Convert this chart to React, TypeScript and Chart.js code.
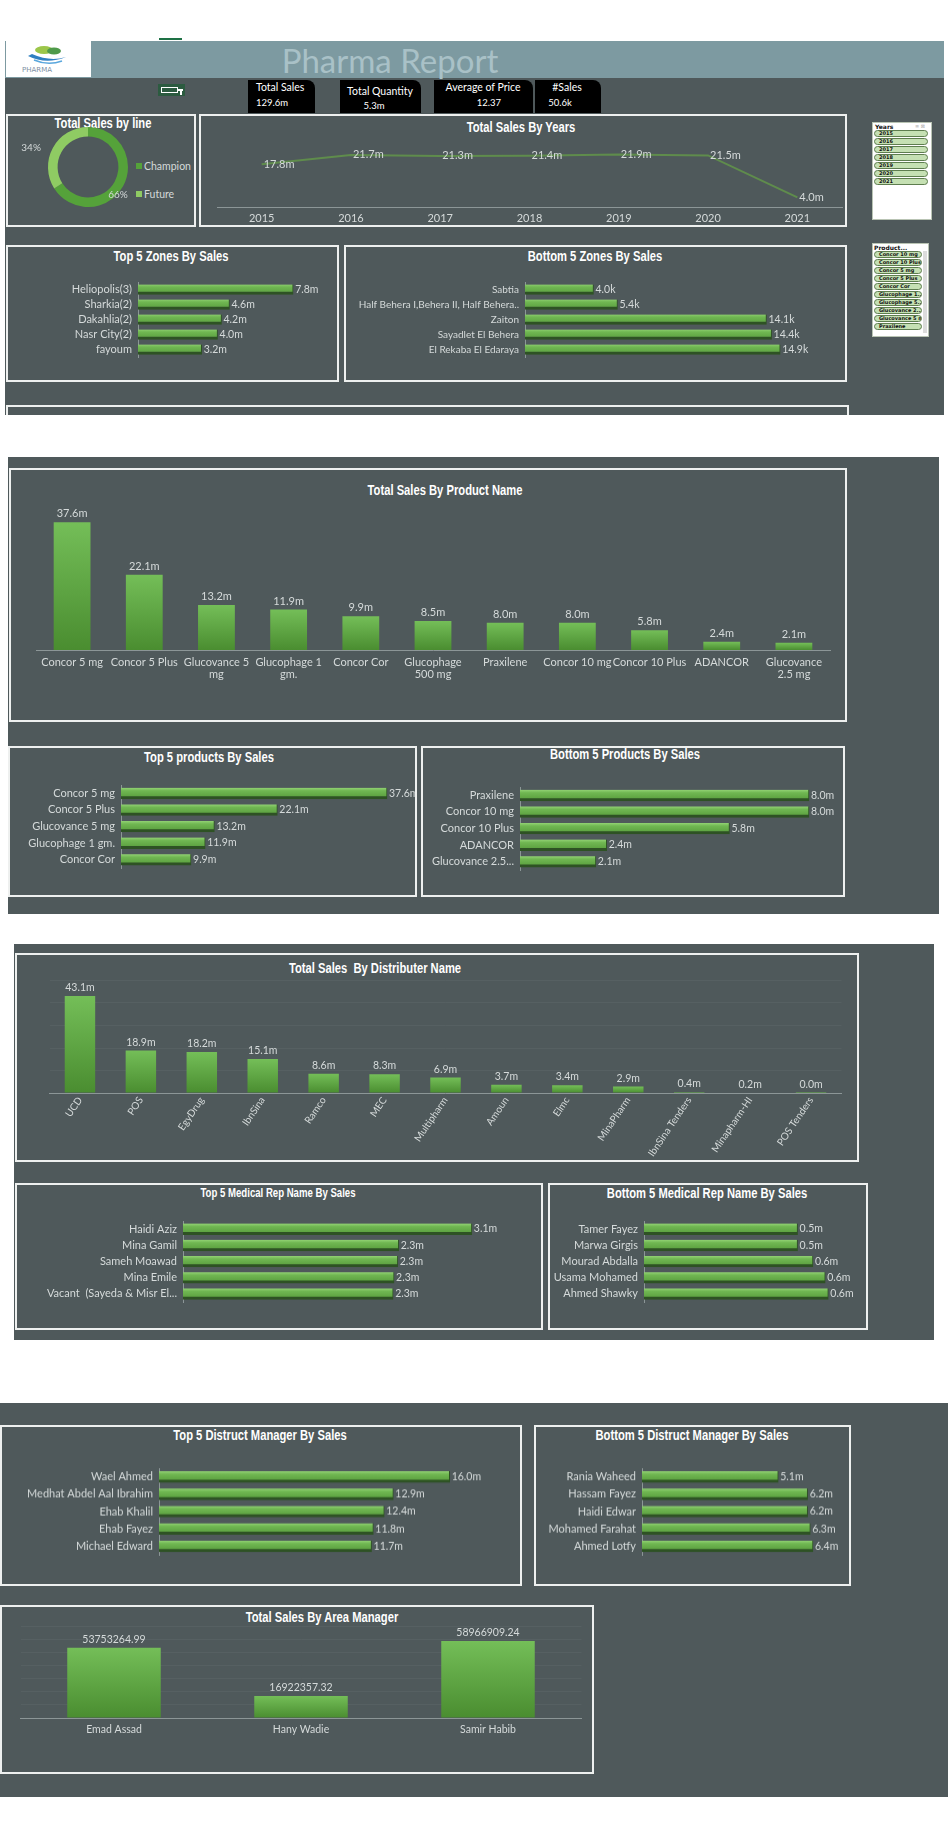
import React, { useEffect, useRef } from 'react';
import { Chart, registerables } from 'chart.js';

Chart.register(...registerables);

// ---------------- data ----------------
const lineLabels = ['Champion', 'Future'];
const lineShares = [66, 34];

const yearLabels = ['2015', '2016', '2017', '2018', '2019', '2020', '2021'];
const yearSales = [17.8, 21.7, 21.3, 21.4, 21.9, 21.5, 4.0]; // millions

const topZoneLabels = ['Heliopolis(3)', 'Sharkia(2)', 'Dakahlia(2)', 'Nasr City(2)', 'fayoum'];
const topZoneSales = [7.8, 4.6, 4.2, 4.0, 3.2]; // millions

const bottomZoneLabels = ['Sabtia', 'Half Behera I,Behera II, Half Behera..', 'Zaiton', 'Sayadlet El Behera', 'El Rekaba El Edaraya'];
const bottomZoneSales = [4.0, 5.4, 14.1, 14.4, 14.9]; // thousands

const productLabels: (string | string[])[] = [
  'Concor 5 mg', 'Concor 5 Plus', ['Glucovance 5', 'mg'], ['Glucophage 1', 'gm.'], 'Concor Cor',
  ['Glucophage', '500 mg'], 'Praxilene', 'Concor 10 mg', 'Concor 10 Plus', 'ADANCOR', ['Glucovance', '2.5 mg'],
];
const productSales = [37.6, 22.1, 13.2, 11.9, 9.9, 8.5, 8.0, 8.0, 5.8, 2.4, 2.1];

const topProductLabels = ['Concor 5 mg', 'Concor 5 Plus', 'Glucovance 5 mg', 'Glucophage 1 gm.', 'Concor Cor'];
const topProductSales = [37.6, 22.1, 13.2, 11.9, 9.9];

const bottomProductLabels = ['Praxilene', 'Concor 10 mg', 'Concor 10 Plus', 'ADANCOR', 'Glucovance 2.5...'];
const bottomProductSales = [8.0, 8.0, 5.8, 2.4, 2.1];

const distributorLabels = ['UCD', 'POS', 'EgyDrug', 'IbnSina', 'Ramco', 'MEC', 'Multipharm', 'Amoun', 'Elmc', 'MinaPharm', 'IbnSina Tenders', 'Minapharm-HI', 'POS Tenders'];
const distributorSales = [43.1, 18.9, 18.2, 15.1, 8.6, 8.3, 6.9, 3.7, 3.4, 2.9, 0.4, 0.2, 0.04];

const topRepLabels = ['Haidi Aziz', 'Mina Gamil', 'Sameh Moawad', 'Mina Emile', 'Vacant  (Sayeda & Misr El...'];
const topRepSales = [3.12, 2.33, 2.32, 2.28, 2.27];

const bottomRepLabels = ['Tamer Fayez', 'Marwa Girgis', 'Mourad Abdalla', 'Usama Mohamed', 'Ahmed Shawky'];
const bottomRepSales = [0.5, 0.5, 0.55, 0.59, 0.6];

const topManagerLabels = ['Wael Ahmed', 'Medhat Abdel Aal Ibrahim', 'Ehab Khalil', 'Ehab Fayez', 'Michael Edward'];
const topManagerSales = [16.0, 12.9, 12.4, 11.8, 11.7];

const bottomManagerLabels = ['Rania Waheed', 'Hassam Fayez', 'Haidi Edwar', 'Mohamed Farahat', 'Ahmed Lotfy'];
const bottomManagerSales = [5.1, 6.2, 6.2, 6.3, 6.4];

const areaManagerLabels = ['Emad Assad', 'Hany Wadie', 'Samir Habib'];
const areaManagerSales = [53753264.99, 16922357.32, 58966909.24];

const kpiTitles = ['Total Sales', 'Total Quantity', 'Average of Price', '#Sales'];
const kpiValues = ['129.6m', '5.3m', '12.37', '50.6k'];

const productSlicerItems = ['Concor 10 mg', 'Concor 10 Plus', 'Concor 5 mg', 'Concor 5 Plus', 'Concor Cor', 'Glucophage 1...', 'Glucophage 5...', 'Glucovance 2...', 'Glucovance 5 mg', 'Praxilene'];

// ---------------- styles ----------------
const BG = '#4f595b';
const HEADER = '#7d9aa1';
const TXT = '#d5dada';
const AXIS = '#8c9697';
const CHAMP = '#55a23a';
const FUT = '#8fcb63';
const LABEL_FONT = "Lato, 'Open Sans', sans-serif";
const TITLE_FONT = "'Liberation Sans', Arial, sans-serif";

Chart.defaults.font.family = LABEL_FONT;
Chart.defaults.color = TXT;

const valueLabels = {
  id: 'valueLabels',
  afterDatasetsDraw(chart: any, _a: any, opts: any) {
    if (!opts || !opts.mode) return;
    const ctx = chart.ctx;
    ctx.save();
    ctx.fillStyle = opts.color || TXT;
    ctx.font = `${opts.size || 10}px ${LABEL_FONT}`;
    chart.data.datasets.forEach((ds: any, di: number) => {
      const meta = chart.getDatasetMeta(di);
      const total = ds.data.reduce((a: number, b: number) => a + b, 0);
      meta.data.forEach((el: any, i: number) => {
        const v = ds.data[i];
        let t = '';
        if (opts.fmt === 'm') t = v.toFixed(1) + 'm';
        else if (opts.fmt === 'k') t = v.toFixed(1) + 'k';
        else if (opts.fmt === 'raw2') t = v.toFixed(2);
        else if (opts.fmt === 'pct') t = Math.round((v / total) * 100) + '%';
        if (opts.mode === 'right') {
          ctx.textAlign = 'left';
          ctx.textBaseline = 'middle';
          ctx.fillText(t, el.x + 2, el.y);
        } else if (opts.mode === 'top') {
          ctx.textAlign = 'center';
          ctx.textBaseline = 'bottom';
          ctx.fillText(t, el.x, el.y - 3);
        } else if (opts.mode === 'arc') {
          const radii = opts.radii || [];
          const shifts = opts.shifts || [];
          const mid = (el.startAngle + el.endAngle) / 2 + (shifts[i] || 0);
          const r = el.outerRadius * (radii[i] || 1);
          ctx.textAlign = 'center';
          ctx.textBaseline = 'middle';
          ctx.fillText(t, el.x + Math.cos(mid) * r, el.y + Math.sin(mid) * r);
        }
      });
    });
    ctx.restore();
  },
};
Chart.register(valueLabels);

type Box = { x: number; y: number; w: number; h: number };

const hGrad = (c: any) => {
  const chart = c.chart;
  const ys = chart.scales && chart.scales.y;
  if (c.type !== 'data' || !ys) return '#6cb24e';
  const yc = ys.getPixelForValue(c.dataIndex);
  if (!isFinite(yc)) return '#6cb24e';
  const g = chart.ctx.createLinearGradient(0, yc - 5.5, 0, yc + 3);
  g.addColorStop(0, '#92d274');
  g.addColorStop(0.35, '#70b752');
  g.addColorStop(1, '#5ea342');
  return g;
};

const vGrad = (c: any) => {
  const chart = c.chart;
  const ys = chart.scales && chart.scales.y;
  if (c.type !== 'data' || !ys) return '#63ad47';
  const top = ys.getPixelForValue(c.raw);
  const base = ys.getPixelForValue(0);
  if (!isFinite(top) || base - top < 2) return '#6cb54f';
  const g = chart.ctx.createLinearGradient(0, top, 0, base);
  g.addColorStop(0, '#74be58');
  g.addColorStop(1, '#4a8d30');
  return g;
};

// horizontal bar chart: x..x+w canvas span, rows centred at first + i*step
type HOpts = { x: number; w: number; first: number; step: number; barStart: number; plotRight: number; max: number; fmt: string; thick: number; tick?: number };
const HPAD = 16;
function hbar(labels: string[], values: number[], o: HOpts) {
  const box: Box = { x: o.x, y: o.first - o.step / 2 - HPAD, w: o.w, h: o.step * labels.length + 2 * HPAD };
  const make = () => ({
    type: 'bar',
    data: {
      labels,
      datasets: [{
        data: values,
        backgroundColor: hGrad,
        borderColor: '#2e5224',
        borderWidth: { top: 0, left: 0, right: 1, bottom: 3 },
        borderSkipped: false,
        barThickness: o.thick,
      }],
    },
    options: {
      indexAxis: 'y',
      responsive: false,
      animation: false,
      layout: { padding: { left: 0, right: o.x + o.w - o.plotRight, top: HPAD, bottom: HPAD } },
      plugins: { legend: { display: false }, tooltip: { enabled: false }, valueLabels: { mode: 'right', fmt: o.fmt, size: 10.5 } },
      scales: {
        x: { display: false, min: 0, max: o.max },
        y: {
          afterFit: (s: any) => { s.width = o.barStart - o.x; },
          grid: { display: false, drawTicks: false },
          border: { display: true, color: AXIS, width: 1 },
          ticks: { autoSkip: false, padding: 6, color: TXT, font: { size: o.tick || 11 } },
        },
      },
    },
  });
  return { box, make };
}

type VOpts = { box: Box; plotLeft: number; plotRight: number; plotTop: number; base: number; max: number; fmt: string; size: number; tick?: number; rotate?: number; step?: number; barPct?: number; pad?: number };
function vbar(labels: any[], values: number[], o: VOpts) {
  const make = () => ({
    type: 'bar',
    data: { labels, datasets: [{ data: values, backgroundColor: vGrad, borderWidth: 0, barPercentage: o.barPct || 0.5, categoryPercentage: 1 }] },
    options: {
      responsive: false,
      animation: false,
      layout: { padding: { left: o.plotLeft - o.box.x, right: o.box.x + o.box.w - o.plotRight, top: o.plotTop - o.box.y, bottom: 0 } },
      plugins: { legend: { display: false }, tooltip: { enabled: false }, valueLabels: { mode: 'top', fmt: o.fmt, size: o.size } },
      scales: {
        x: {
          afterFit: (s: any) => { s.height = o.box.y + o.box.h - o.base; },
          grid: { display: false, drawTicks: false },
          border: { display: true, color: AXIS, width: 1 },
          ticks: { autoSkip: false, maxRotation: o.rotate || 0, minRotation: o.rotate || 0, padding: o.pad ?? 6, color: TXT, font: { size: o.tick || o.size, lineHeight: 1.1 } },
        },
        y: {
          display: !!o.step,
          min: 0,
          max: o.max,
          afterFit: (s: any) => { s.width = 0; },
          ticks: { display: false, stepSize: o.step },
          grid: { color: 'rgba(255,255,255,0.045)', drawTicks: false },
          border: { display: false },
        },
      },
    },
  });
  return { box: o.box, make };
}

const lineBox: Box = { x: 201, y: 135, w: 644, h: 90 };
function lineConfig() {
  const box = lineBox;
  const plotLeft = 217, plotRight = 842, plotTop = 147, base = 207;
  return {
    type: 'line',
    data: { labels: yearLabels, datasets: [{ data: yearSales, borderColor: '#5f8c4c', borderWidth: 2, pointRadius: 0, tension: 0, fill: false }] },
    options: {
      responsive: false,
      animation: false,
      layout: { padding: { left: plotLeft - box.x, right: box.x + box.w - plotRight, top: plotTop - box.y, bottom: 0 } },
      plugins: { legend: { display: false }, tooltip: { enabled: false }, valueLabels: { mode: 'right', fmt: 'm', size: 11 } },
      scales: {
        x: {
          offset: true,
          afterFit: (s: any) => { s.height = box.y + box.h - base; },
          grid: { display: false, drawTicks: false },
          border: { display: true, color: AXIS, width: 1 },
          ticks: { padding: 5, color: TXT, font: { size: 11 } },
        },
        y: { display: false, min: 0, max: 25 },
      },
    },
  };
}

function donutConfig() {
  return {
    type: 'doughnut',
    data: { labels: lineLabels, datasets: [{ data: lineShares, backgroundColor: [CHAMP, FUT], borderWidth: 0 }] },
    options: {
      responsive: false,
      animation: false,
      cutout: '76%',
      layout: { padding: 0 },
      plugins: { legend: { display: false }, tooltip: { enabled: false }, valueLabels: { mode: 'arc', fmt: 'pct', size: 10, radii: [1.03, 1.5], shifts: [0.25, -0.18] } },
    },
  };
}

function ChartCanvas({ box, make }: { box: Box; make: () => any }) {
  const ref = useRef<HTMLCanvasElement>(null);
  useEffect(() => {
    const chart = new Chart(ref.current as HTMLCanvasElement, make());
    return () => chart.destroy();
  }, []);
  return (
    <canvas
      ref={ref}
      width={box.w}
      height={box.h}
      style={{ position: 'absolute', left: box.x, top: box.y, width: box.w, height: box.h, display: 'block' }}
    />
  );
}

const Rect = ({ x, y, w, h, bg, style }: { x: number; y: number; w: number; h: number; bg?: string; style?: any }) => (
  <div style={{ position: 'absolute', left: x, top: y, width: w, height: h, background: bg, boxSizing: 'border-box', ...style }} />
);

const Panel = ({ x, y, w, h, noBottom }: { x: number; y: number; w: number; h: number; noBottom?: boolean }) => (
  <div style={{ position: 'absolute', left: x, top: y, width: w, height: h, boxSizing: 'border-box', border: '2px solid #eef0ef', borderBottom: noBottom ? 'none' : '2px solid #eef0ef' }} />
);

const Title = ({ x, y, text, size = 14 }: { x: number; y: number; text: string; size?: number }) => (
  <div style={{ position: 'absolute', left: x, top: y, transform: 'translate(-50%, -50%) scaleX(0.8)', whiteSpace: 'pre', color: '#ffffff', fontFamily: TITLE_FONT, fontWeight: 'bold', fontSize: size, lineHeight: 1 }}>{text}</div>
);

const Txt = ({ x, y, text, size = 10, color = '#fff', center }: { x: number; y: number; text: string; size?: number; color?: string; center?: boolean }) => (
  <div style={{ position: 'absolute', left: x, top: y, transform: center ? 'translate(-50%, -50%)' : 'translate(0, -50%)', whiteSpace: 'pre', color, fontFamily: LABEL_FONT, fontSize: size, lineHeight: 1 }}>{text}</div>
);

const pill = (x: number, y: number, w: number, text: string, key: string) => (
  <div key={key} style={{ position: 'absolute', left: x, top: y, width: w, height: 7, boxSizing: 'border-box', background: '#c5e0b3', border: '1px solid #5e7d4f', borderRadius: 4, fontSize: 5, fontWeight: 'bold', lineHeight: '5px', paddingLeft: 4, color: '#111', overflow: 'hidden', whiteSpace: 'nowrap', fontFamily: 'DejaVu Sans, sans-serif' }}>{text}</div>
);

const kpiBoxes = [
  { x: 248, w: 67, tx: 256, ty: 87, vx: 256, vy: 103, center: false },
  { x: 340, w: 81, tx: 380, ty: 91, vx: 374, vy: 106, center: true },
  { x: 434, w: 99, tx: 483, ty: 87, vx: 489, vy: 103, center: true },
  { x: 535, w: 66, tx: 567, ty: 87, vx: 560, vy: 103, center: true },
];

const charts = [
  hbar(topZoneLabels, topZoneSales, { x: 8, w: 329, first: 289, step: 15, barStart: 138, plotRight: 317, max: 9, fmt: 'm', thick: 10 }),
  hbar(bottomZoneLabels, bottomZoneSales, { x: 346, w: 499, first: 289, step: 15, barStart: 525, plotRight: 799, max: 16, fmt: 'k', thick: 10, tick: 10 }),
  vbar(productLabels, productSales, { box: { x: 11, y: 500, w: 834, h: 215 }, plotLeft: 36, plotRight: 830, plotTop: 514, base: 650, max: 40, fmt: 'm', size: 11, barPct: 0.51 }),
  hbar(topProductLabels, topProductSales, { x: 10, w: 405, first: 793, step: 16.6, barStart: 121, plotRight: 404, max: 40, fmt: 'm', thick: 11 }),
  hbar(bottomProductLabels, bottomProductSales, { x: 423, w: 420, first: 795, step: 16.75, barStart: 520, plotRight: 827, max: 8.5, fmt: 'm', thick: 11 }),
  vbar(distributorLabels, distributorSales, { box: { x: 17, y: 975, w: 840, h: 200 }, plotLeft: 49.5, plotRight: 841.5, plotTop: 980.5, base: 1093, max: 50, fmt: 'm', size: 10.5, tick: 10, pad: 2, rotate: 56, step: 10, barPct: 0.5 }),
  hbar(topRepLabels, topRepSales, { x: 17, w: 524, first: 1229.5, step: 16.2, barStart: 183, plotRight: 507, max: 3.5, fmt: 'm', thick: 11 }),
  hbar(bottomRepLabels, bottomRepSales, { x: 550, w: 316, first: 1229.5, step: 16.2, barStart: 644, plotRight: 859, max: 0.7, fmt: 'm', thick: 11 }),
  hbar(topManagerLabels, topManagerSales, { x: 2, w: 518, first: 1477, step: 17.25, barStart: 159, plotRight: 486, max: 18, fmt: 'm', thick: 11 }),
  hbar(bottomManagerLabels, bottomManagerSales, { x: 536, w: 313, first: 1477, step: 17.25, barStart: 642, plotRight: 829, max: 7, fmt: 'm', thick: 11 }),
  vbar(areaManagerLabels, areaManagerSales, { box: { x: 2, y: 1622, w: 590, h: 150 }, plotLeft: 20.5, plotRight: 581.5, plotTop: 1626.6, base: 1718, max: 70000000, fmt: 'raw2', size: 10.5, step: 10000000, barPct: 0.5 }),
];

export default function App() {
  return (
    <div style={{ position: 'absolute', left: 0, top: 0, width: 948, height: 1828, background: '#ffffff', overflow: 'hidden', fontFamily: LABEL_FONT }}>
      {/* sections */}
      <Rect x={5} y={41} w={939} h={37} bg={HEADER} />
      <Rect x={5} y={78} w={939} h={337} bg={BG} />
      <Rect x={8} y={457} w={931} h={457} bg={BG} />
      <Rect x={14} y={944} w={920} h={396} bg={BG} />
      <Rect x={0} y={1403} w={948} h={394} bg={BG} />
      <Rect x={159} y={38} w={23} h={2} bg="#1e7145" />

      {/* header */}
      <Rect x={6} y={41} w={85} h={36} bg="#ffffff" />
      <svg style={{ position: 'absolute', left: 6, top: 41 }} width={85} height={36}>
        <ellipse cx={38} cy={9} rx={9} ry={4} fill="#9cc64a" />
        <ellipse cx={48} cy={10} rx={7} ry={3.5} fill="#4f9a4a" />
        <path d="M22 15 Q40 24 60 16 Q44 21 26 13 Z" fill="#2f7fc1" />
        <path d="M28 19 Q42 25 56 20" stroke="#5aa7dd" strokeWidth={1.5} fill="none" />
        <text x={16} y={31} fontSize={7} fill="#7e8fa3" fontFamily="DejaVu Sans, sans-serif">PHARMA</text>
      </svg>
      <div style={{ position: 'absolute', left: 390, top: 60, transform: 'translate(-50%, -50%)', color: '#a9c1c7', fontSize: 33, fontFamily: LABEL_FONT, whiteSpace: 'nowrap', lineHeight: 1 }}>Pharma Report</div>

      {/* small icon */}
      <Rect x={158} y={84} w={27} h={12} bg="#2c5b40" />
      <Rect x={161} y={87} w={17} h={6} style={{ border: '1.5px solid #ffffff' }} />
      <Rect x={178} y={89} w={5} h={1.5} bg="#ffffff" />
      <Rect x={180} y={89} w={1.5} h={6} bg="#ffffff" />

      {/* KPI cards */}
      {kpiBoxes.map((b, i) => (
        <React.Fragment key={'kpi' + i}>
          <Rect x={b.x} y={80} w={b.w} h={33} bg="#000000" style={{ borderTopRightRadius: 8 }} />
          <Txt x={b.tx} y={b.ty} text={kpiTitles[i]} size={10.5} center={b.center} />
          <Txt x={b.vx} y={b.vy} text={kpiValues[i]} size={9.5} center={b.center} />
        </React.Fragment>
      ))}

      {/* panels */}
      <Panel x={6} y={114} w={190} h={113} />
      <Panel x={199} y={114} w={648} h={113} />
      <Panel x={6} y={245} w={333} h={137} />
      <Panel x={344} y={245} w={503} h={137} />
      <Panel x={6} y={405} w={843} h={10} noBottom />
      <Panel x={9} y={468} w={838} h={254} />
      <Panel x={8} y={746} w={409} h={151} />
      <Panel x={421} y={746} w={424} h={151} />
      <Panel x={15} y={953} w={844} h={209} />
      <Panel x={15} y={1183} w={528} h={147} />
      <Panel x={548} y={1183} w={320} h={147} />
      <Panel x={0} y={1425} w={522} h={161} />
      <Panel x={534} y={1425} w={317} h={161} />
      <Panel x={0} y={1605} w={594} h={169} />

      {/* titles */}
      <Title x={103} y={123} text="Total Sales by line" />
      <Title x={521} y={127} text="Total Sales By Years" />
      <Title x={171} y={256} text="Top 5 Zones By Sales" />
      <Title x={595} y={256} text="Bottom 5 Zones By Sales" />
      <Title x={445} y={490} text="Total Sales By Product Name" />
      <Title x={209} y={757} text="Top 5 products By Sales" />
      <Title x={625} y={754} text="Bottom 5 Products By Sales" />
      <Title x={375} y={968} text="Total Sales  By Distributer Name" />
      <Title x={278} y={1193} text="Top 5 Medical Rep Name By Sales" size={12} />
      <Title x={707} y={1193} text="Bottom 5 Medical Rep Name By Sales" />
      <Title x={260} y={1435} text="Top 5 Distruct Manager By Sales" />
      <Title x={692} y={1435} text="Bottom 5 Distruct Manager By Sales" />
      <Title x={322} y={1617} text="Total Sales By Area Manager" />

      {/* donut legend */}
      {lineLabels.map((l, i) => (
        <React.Fragment key={'lg' + i}>
          <Rect x={136} y={163 + i * 28} w={6} h={6} bg={i === 0 ? CHAMP : FUT} />
          <Txt x={144} y={166 + i * 28} text={l} size={10.5} color={TXT} />
        </React.Fragment>
      ))}

      {/* charts */}
      <ChartCanvas box={{ x: 18, y: 127, w: 140, h: 80 }} make={donutConfig} />
      <ChartCanvas box={lineBox} make={lineConfig} />
      {charts.map((c, i) => (
        <ChartCanvas key={'c' + i} box={c.box} make={c.make} />
      ))}

      {/* Years slicer */}
      <Rect x={872} y={122} w={60} h={98} bg="#ffffff" style={{ border: '1px solid #b9c4b4' }} />
      <div style={{ position: 'absolute', left: 875, top: 123, fontSize: 6, fontWeight: 'bold', color: '#111', fontFamily: 'DejaVu Sans, sans-serif' }}>Years</div>
      <div style={{ position: 'absolute', left: 915, top: 123, fontSize: 5, color: '#aaa', fontFamily: 'DejaVu Sans, sans-serif' }}>≡ ⊠</div>
      {yearLabels.map((y, i) => pill(874, 130 + i * 8, 54, y, 'ys' + i))}

      {/* Product slicer */}
      <Rect x={872} y={243} w={57} h={94} bg="#ffffff" style={{ border: '1px solid #b9c4b4' }} />
      <div style={{ position: 'absolute', left: 874, top: 244, fontSize: 6, fontWeight: 'bold', color: '#111', fontFamily: 'DejaVu Sans, sans-serif' }}>Product...</div>
      <Rect x={923} y={251} w={4} h={82} bg="#dcdcdc" />
      {productSlicerItems.map((p, i) => pill(874, 251 + i * 8, 48, p, 'ps' + i))}
    </div>
  );
}
